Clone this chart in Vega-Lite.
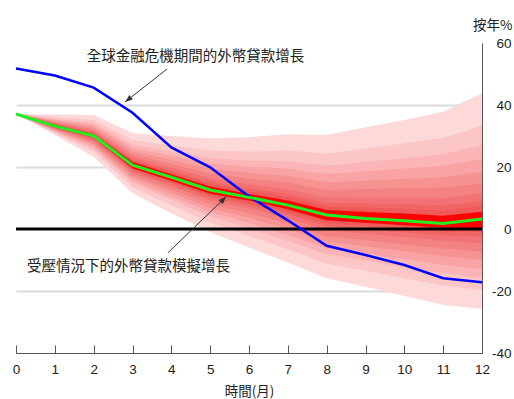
{
  "$schema": "https://vega.github.io/schema/vega-lite/v6.json",
  "width": 466,
  "height": 310,
  "autosize": "none",
  "padding": {"left": 16, "top": 43, "right": 32, "bottom": 46},
  "background": "white",
  "config": {
    "view": {"stroke": null},
    "font": "Liberation Sans",
    "axis": {"labelOverlap": false, "labelFlush": false, "titleFontWeight": 400, "titleFont": "Noto Sans CJK TC", "titleFontSize": 13.5, "labelFontSize": 13.5, "labelColor": "#222", "titleColor": "#222", "domainColor": "#555", "tickColor": "#555"}
  },
  "datasets": {
    "zero": [{"x": 0, "y": 0}, {"x": 12, "y": 0}],
    "fan": [
      {"band": "b1", "x": 0, "y": 37.1, "hi": 37.1},
      {"band": "b1", "x": 1, "y": 30.3, "hi": 36.9},
      {"band": "b1", "x": 2, "y": 23.3, "hi": 36.8},
      {"band": "b1", "x": 3, "y": 11.5, "hi": 31.0},
      {"band": "b1", "x": 4, "y": 5.0, "hi": 30.0},
      {"band": "b1", "x": 5, "y": -1.0, "hi": 29.2},
      {"band": "b1", "x": 6, "y": -6.0, "hi": 29.6},
      {"band": "b1", "x": 7, "y": -10.8, "hi": 30.6},
      {"band": "b1", "x": 8, "y": -15.9, "hi": 30.3},
      {"band": "b1", "x": 9, "y": -18.6, "hi": 32.8},
      {"band": "b1", "x": 10, "y": -21.6, "hi": 35.2},
      {"band": "b1", "x": 11, "y": -24.5, "hi": 37.8},
      {"band": "b1", "x": 12, "y": -25.8, "hi": 43.8},

      {"band": "b2", "x": 0, "y": 37.1, "hi": 37.1},
      {"band": "b2", "x": 1, "y": 30.9, "hi": 36.1},
      {"band": "b2", "x": 2, "y": 24.9, "hi": 35.2},
      {"band": "b2", "x": 3, "y": 13.5, "hi": 28.7},
      {"band": "b2", "x": 4, "y": 7.7, "hi": 26.9},
      {"band": "b2", "x": 5, "y": 2.1, "hi": 25.3},
      {"band": "b2", "x": 6, "y": -2.2, "hi": 25.0},
      {"band": "b2", "x": 7, "y": -6.5, "hi": 25.3},
      {"band": "b2", "x": 8, "y": -11.2, "hi": 24.3},
      {"band": "b2", "x": 9, "y": -13.5, "hi": 26.0},
      {"band": "b2", "x": 10, "y": -15.9, "hi": 27.7},
      {"band": "b2", "x": 11, "y": -18.3, "hi": 29.4},
      {"band": "b2", "x": 12, "y": -19.7, "hi": 33.3},

      {"band": "b3", "x": 0, "y": 37.1, "hi": 37.1},
      {"band": "b3", "x": 1, "y": 31.3, "hi": 35.5},
      {"band": "b3", "x": 2, "y": 25.8, "hi": 34.2},
      {"band": "b3", "x": 3, "y": 14.8, "hi": 27.2},
      {"band": "b3", "x": 4, "y": 9.4, "hi": 25.0},
      {"band": "b3", "x": 5, "y": 4.1, "hi": 22.9},
      {"band": "b3", "x": 6, "y": 0.2, "hi": 22.1},
      {"band": "b3", "x": 7, "y": -3.8, "hi": 21.8},
      {"band": "b3", "x": 8, "y": -8.2, "hi": 20.4},
      {"band": "b3", "x": 9, "y": -10.2, "hi": 21.6},
      {"band": "b3", "x": 10, "y": -12.3, "hi": 22.8},
      {"band": "b3", "x": 11, "y": -14.3, "hi": 24.1},
      {"band": "b3", "x": 12, "y": -15.9, "hi": 27.1},

      {"band": "b4", "x": 0, "y": 37.1, "hi": 37.1},
      {"band": "b4", "x": 1, "y": 31.6, "hi": 35.2},
      {"band": "b4", "x": 2, "y": 26.5, "hi": 33.5},
      {"band": "b4", "x": 3, "y": 15.7, "hi": 26.1},
      {"band": "b4", "x": 4, "y": 10.5, "hi": 23.6},
      {"band": "b4", "x": 5, "y": 5.5, "hi": 21.1},
      {"band": "b4", "x": 6, "y": 1.9, "hi": 20.1},
      {"band": "b4", "x": 7, "y": -1.9, "hi": 19.5},
      {"band": "b4", "x": 8, "y": -6.2, "hi": 17.7},
      {"band": "b4", "x": 9, "y": -7.9, "hi": 18.6},
      {"band": "b4", "x": 10, "y": -9.7, "hi": 19.5},
      {"band": "b4", "x": 11, "y": -11.6, "hi": 20.4},
      {"band": "b4", "x": 12, "y": -13.0, "hi": 22.6},

      {"band": "b5", "x": 0, "y": 37.1, "hi": 37.1},
      {"band": "b5", "x": 1, "y": 31.9, "hi": 34.8},
      {"band": "b5", "x": 2, "y": 27.2, "hi": 32.8},
      {"band": "b5", "x": 3, "y": 16.6, "hi": 25.1},
      {"band": "b5", "x": 4, "y": 11.7, "hi": 22.3},
      {"band": "b5", "x": 5, "y": 6.8, "hi": 19.4},
      {"band": "b5", "x": 6, "y": 3.6, "hi": 18.1},
      {"band": "b5", "x": 7, "y": 0.0, "hi": 17.1},
      {"band": "b5", "x": 8, "y": -4.1, "hi": 15.1},
      {"band": "b5", "x": 9, "y": -5.6, "hi": 15.6},
      {"band": "b5", "x": 10, "y": -7.2, "hi": 16.2},
      {"band": "b5", "x": 11, "y": -8.8, "hi": 16.7},
      {"band": "b5", "x": 12, "y": -10.0, "hi": 18.5},

      {"band": "b6", "x": 0, "y": 37.1, "hi": 37.1},
      {"band": "b6", "x": 1, "y": 32.1, "hi": 34.5},
      {"band": "b6", "x": 2, "y": 27.8, "hi": 32.2},
      {"band": "b6", "x": 3, "y": 17.4, "hi": 24.1},
      {"band": "b6", "x": 4, "y": 12.7, "hi": 21.0},
      {"band": "b6", "x": 5, "y": 8.1, "hi": 17.9},
      {"band": "b6", "x": 6, "y": 5.1, "hi": 16.2},
      {"band": "b6", "x": 7, "y": 1.8, "hi": 15.0},
      {"band": "b6", "x": 8, "y": -2.3, "hi": 12.6},
      {"band": "b6", "x": 9, "y": -3.6, "hi": 12.9},
      {"band": "b6", "x": 10, "y": -5.0, "hi": 13.2},
      {"band": "b6", "x": 11, "y": -6.3, "hi": 13.4},
      {"band": "b6", "x": 12, "y": -7.3, "hi": 14.7},

      {"band": "b7", "x": 0, "y": 37.1, "hi": 37.1},
      {"band": "b7", "x": 1, "y": 32.4, "hi": 34.2},
      {"band": "b7", "x": 2, "y": 28.4, "hi": 31.6},
      {"band": "b7", "x": 3, "y": 18.2, "hi": 23.2},
      {"band": "b7", "x": 4, "y": 13.8, "hi": 19.8},
      {"band": "b7", "x": 5, "y": 9.3, "hi": 16.3},
      {"band": "b7", "x": 6, "y": 6.6, "hi": 14.4},
      {"band": "b7", "x": 7, "y": 3.5, "hi": 12.8},
      {"band": "b7", "x": 8, "y": -0.4, "hi": 10.2},
      {"band": "b7", "x": 9, "y": -1.5, "hi": 10.1},
      {"band": "b7", "x": 10, "y": -2.7, "hi": 10.1},
      {"band": "b7", "x": 11, "y": -3.8, "hi": 10.0},
      {"band": "b7", "x": 12, "y": -4.6, "hi": 11.5},

      {"band": "b8", "x": 0, "y": 37.1, "hi": 37.1},
      {"band": "b8", "x": 1, "y": 32.6, "hi": 33.9},
      {"band": "b8", "x": 2, "y": 28.9, "hi": 31.1},
      {"band": "b8", "x": 3, "y": 18.8, "hi": 22.5},
      {"band": "b8", "x": 4, "y": 14.5, "hi": 18.9},
      {"band": "b8", "x": 5, "y": 10.2, "hi": 15.3},
      {"band": "b8", "x": 6, "y": 7.7, "hi": 13.1},
      {"band": "b8", "x": 7, "y": 4.7, "hi": 11.3},
      {"band": "b8", "x": 8, "y": 0.9, "hi": 8.5},
      {"band": "b8", "x": 9, "y": -0.1, "hi": 8.2},
      {"band": "b8", "x": 10, "y": -1.1, "hi": 8.0},
      {"band": "b8", "x": 11, "y": -2.1, "hi": 7.7},
      {"band": "b8", "x": 12, "y": -2.5, "hi": 9.1},

      {"band": "b9", "x": 0, "y": 37.1, "hi": 37.1},
      {"band": "b9", "x": 1, "y": 32.7, "hi": 33.8},
      {"band": "b9", "x": 2, "y": 29.2, "hi": 30.8},
      {"band": "b9", "x": 3, "y": 19.2, "hi": 22.1},
      {"band": "b9", "x": 4, "y": 15.1, "hi": 18.3},
      {"band": "b9", "x": 5, "y": 10.8, "hi": 14.5},
      {"band": "b9", "x": 6, "y": 8.4, "hi": 12.2},
      {"band": "b9", "x": 7, "y": 5.5, "hi": 10.3},
      {"band": "b9", "x": 8, "y": 1.9, "hi": 7.3},
      {"band": "b9", "x": 9, "y": 1.0, "hi": 6.9},
      {"band": "b9", "x": 10, "y": 0.1, "hi": 6.5},
      {"band": "b9", "x": 11, "y": -0.8, "hi": 6.0},
      {"band": "b9", "x": 12, "y": -1.0, "hi": 7.4},

      {"band": "c", "x": 0, "y": 37.1, "hi": 37.1},
      {"band": "c", "x": 1, "y": 32.8, "hi": 33.6},
      {"band": "c", "x": 2, "y": 29.5, "hi": 30.5},
      {"band": "c", "x": 3, "y": 19.6, "hi": 21.6},
      {"band": "c", "x": 4, "y": 15.6, "hi": 17.7},
      {"band": "c", "x": 5, "y": 11.4, "hi": 13.7},
      {"band": "c", "x": 6, "y": 9.2, "hi": 11.3},
      {"band": "c", "x": 7, "y": 6.4, "hi": 9.2},
      {"band": "c", "x": 8, "y": 2.8, "hi": 6.1},
      {"band": "c", "x": 9, "y": 2.0, "hi": 5.5},
      {"band": "c", "x": 10, "y": 1.2, "hi": 5.0},
      {"band": "c", "x": 11, "y": 0.4, "hi": 4.3},
      {"band": "c", "x": 12, "y": 0.3, "hi": 5.6}
    ],
    "gfc": [
      {"x": 0, "y": 51.8}, {"x": 1, "y": 49.5}, {"x": 2, "y": 45.6}, {"x": 3, "y": 37.5},
      {"x": 4, "y": 26.3}, {"x": 5, "y": 19.9}, {"x": 6, "y": 10.5}, {"x": 7, "y": 2.8},
      {"x": 8, "y": -5.4}, {"x": 9, "y": -8.4}, {"x": 10, "y": -11.6}, {"x": 11, "y": -15.9},
      {"x": 12, "y": -17.2}
    ],
    "med": [
      {"x": 0, "y": 37.1}, {"x": 1, "y": 33.2}, {"x": 2, "y": 30.0}, {"x": 3, "y": 20.6},
      {"x": 4, "y": 16.7}, {"x": 5, "y": 12.6}, {"x": 6, "y": 10.2}, {"x": 7, "y": 7.7},
      {"x": 8, "y": 4.5}, {"x": 9, "y": 3.4}, {"x": 10, "y": 2.7}, {"x": 11, "y": 1.8},
      {"x": 12, "y": 3.2}
    ],
    "notes": [
      {"label": "全球金融危機期間的外幣貸款增長", "x": 4.62, "y": 55.6},
      {"label": "受壓情況下的外幣貸款模擬增長", "x": 2.9, "y": -12.1}
    ],
    "arrows": [
      {"id": "a1", "x": 3.89, "y": 51.6},
      {"id": "a1", "x": 2.81, "y": 41.0},
      {"id": "a2", "x": 3.91, "y": -7.7},
      {"id": "a2", "x": 5.41, "y": 10.4}
    ],
    "heads": [
      {"id": "a1", "x": 2.81, "y": 41.0},
      {"id": "a2", "x": 5.41, "y": 10.4}
    ]
  },
  "encoding": {
    "x": {
      "field": "x", "type": "quantitative",
      "scale": {"domain": [0, 12], "nice": false, "zero": false},
      "axis": {
        "values": [0, 1, 2, 3, 4, 5, 6, 7, 8, 9, 10, 11, 12],
        "title": "時間(月)", "grid": false, "tickSize": -8,
        "labelPadding": 17, "labelFlush": false, "labelOverlap": false,
        "titleFontWeight": 400, "titleY": 38, "titleBaseline": "middle"
      }
    },
    "y": {
      "field": "y", "type": "quantitative",
      "scale": {"domain": [-40, 60], "nice": false, "zero": false},
      "axis": {
        "orient": "right", "values": [-40, -20, 0, 20, 40, 60], "ticks": false,
        "grid": true, "gridWidth": 2,
        "gridColor": {"condition": {"test": "datum.value == 20 || datum.value == 40 || datum.value == -20", "value": "#dcdcdc"}, "value": "rgba(0,0,0,0)"},
        "labelAlign": "right", "labelPadding": 29, "labelExpr": "'' + datum.value",
        "labelOverlap": false, "labelFlush": false,
        "title": "按年%", "titleAngle": 0, "titleX": 30, "titleY": -18, "titleAlign": "right",
        "titleBaseline": "middle", "titleFontWeight": 400
      }
    }
  },
  "layer": [
    {
      "data": {"name": "fan"},
      "mark": {"type": "area", "interpolate": "linear"},
      "encoding": {
        "y2": {"field": "hi"},
        "color": {
          "field": "band", "type": "nominal",
          "scale": {
            "domain": ["b1", "b2", "b3", "b4", "b5", "b6", "b7", "b8", "b9", "c"],
            "range": ["#fdd9da", "#fcc6c7", "#fbb5b6", "#f9a3a4", "#f79293", "#f58283", "#f37374", "#f16565", "#ef5959", "#ff0000"]
          },
          "legend": null
        }
      }
    },
    {
      "data": {"name": "zero"},
      "mark": {"type": "line", "color": "#000000", "strokeWidth": 3},
      "encoding": {}
    },
    {
      "data": {"name": "gfc"},
      "mark": {"type": "line", "color": "#0000ff", "strokeWidth": 2.5},
      "encoding": {}
    },
    {
      "data": {"name": "med"},
      "mark": {"type": "line", "color": "#22ee22", "strokeWidth": 3},
      "encoding": {}
    },
    {
      "data": {"name": "arrows"},
      "mark": {"type": "line", "color": "#333333", "strokeWidth": 1},
      "encoding": {"detail": {"field": "id"}}
    },
    {
      "data": {"name": "heads"},
      "transform": [{"filter": "datum.id == 'a1'"}],
      "mark": {"type": "point", "shape": "M0,0L-0.6,1.6L0.6,1.6Z", "filled": true, "color": "#333333", "size": 90, "angle": 232, "opacity": 1},
      "encoding": {}
    },
    {
      "data": {"name": "heads"},
      "transform": [{"filter": "datum.id == 'a2'"}],
      "mark": {"type": "point", "shape": "M0,0L-0.6,1.6L0.6,1.6Z", "filled": true, "color": "#333333", "size": 90, "angle": 45, "opacity": 1},
      "encoding": {}
    },
    {
      "data": {"name": "notes"},
      "mark": {"type": "text", "font": "Noto Sans CJK TC", "fontSize": 14.5, "color": "#222222", "align": "center", "baseline": "middle"},
      "encoding": {"text": {"field": "label"}}
    }
  ]
}
